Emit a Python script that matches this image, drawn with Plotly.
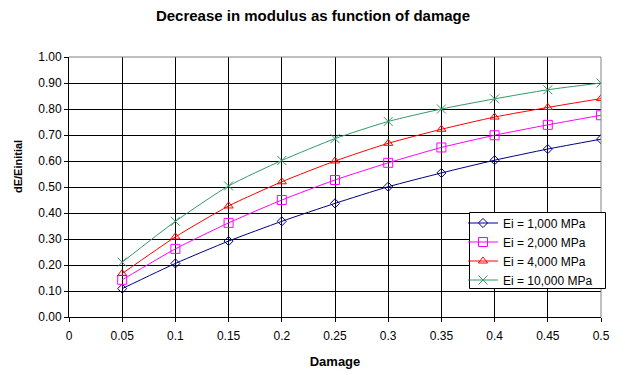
import plotly.graph_objects as go

damage = [0.05, 0.10, 0.15, 0.20, 0.25, 0.30, 0.35, 0.40, 0.45, 0.50]
ei_1000 = [0.109, 0.206, 0.292, 0.368, 0.437, 0.501, 0.554, 0.603, 0.646, 0.684]
ei_2000 = [0.143, 0.262, 0.362, 0.450, 0.527, 0.593, 0.652, 0.699, 0.739, 0.776]
ei_4000 = [0.167, 0.308, 0.427, 0.520, 0.600, 0.668, 0.722, 0.769, 0.806, 0.840]
ei_10000 = [0.211, 0.368, 0.504, 0.602, 0.686, 0.752, 0.800, 0.839, 0.874, 0.900]

series_names = ["Ei = 1,000 MPa", "Ei = 2,000 MPa", "Ei = 4,000 MPa", "Ei = 10,000 MPa"]
series_values = [ei_1000, ei_2000, ei_4000, ei_10000]
colors = ["#000080", "#FF00FF", "#FF0000", "#339966"]
symbols = ["diamond-open", "square-open", "triangle-up-open", "x-thin-open"]
sizes = [7, 9, 8, 9]

x_tickvals = [0, 0.05, 0.1, 0.15, 0.2, 0.25, 0.3, 0.35, 0.4, 0.45, 0.5]
x_ticktext = ["0", "0.05", "0.1", "0.15", "0.2", "0.25", "0.3", "0.35", "0.4", "0.45", "0.5"]
y_tickvals = [0.0, 0.1, 0.2, 0.3, 0.4, 0.5, 0.6, 0.7, 0.8, 0.9, 1.0]

FONT = "Liberation Sans, Arial, sans-serif"

# page body has an 8px margin; figure is sized so the plot area lands at
# x 69..601, y 57..317 in the 625x375 window
OFF = 8
W, H = 625 - OFF, 375 - OFF
PL, PR, PT, PB = 69, 601, 57, 317
PW, PH = PR - PL, PB - PT

fig = go.Figure()
for name, vals, c, s, sz in zip(series_names, series_values, colors, symbols, sizes):
    fig.add_trace(go.Scatter(
        x=damage, y=vals, name=name, mode="lines+markers",
        line=dict(color=c, width=1, shape="spline", smoothing=0.6),
        marker=dict(symbol=s, size=sz, color=c, line=dict(color=c, width=1)),
    ))

fig.update_layout(
    width=W, height=H,
    margin=dict(l=PL - OFF, r=625 - PR, t=PT - OFF, b=375 - PB, autoexpand=False),
    paper_bgcolor="white", plot_bgcolor="white",
    font=dict(family=FONT, size=12, color="black"),
    title=dict(text="<b>Decrease in modulus as function of damage</b>",
               x=(313 - OFF) / W, xref="container", xanchor="center",
               y=1 - 2 / H, yref="container", yanchor="top", pad=dict(t=0, b=0),
               font=dict(size=15, family=FONT)),
    showlegend=True,
    legend=dict(x=(463 - PL) / PW, y=(PB - 208.5) / PH, xanchor="left", yanchor="top",
                bgcolor="rgba(0,0,0,0)", borderwidth=0,
                font=dict(size=12, family=FONT), tracegroupgap=0,
                itemwidth=30),
    xaxis=dict(range=[0, 0.5], tickvals=x_tickvals, ticktext=x_ticktext,
               showgrid=True, gridcolor="black", gridwidth=1,
               showline=True, linecolor="black", linewidth=1,
               ticks="outside", ticklen=4, tickcolor="black", ticklabelstandoff=4,
               zeroline=False, tickfont=dict(size=12), automargin=False,
               title=dict(text="<b>Damage</b>", font=dict(size=13), standoff=14)),
    yaxis=dict(range=[0, 1.0], tickvals=y_tickvals, tickformat=".2f",
               showgrid=True, gridcolor="black", gridwidth=1,
               showline=True, linecolor="black", linewidth=1,
               ticks="outside", ticklen=4, tickcolor="black",
               zeroline=False, tickfont=dict(size=12), automargin=False),
)

fig.add_annotation(text="<b>dE/Einitial</b>", xref="paper", yref="paper",
                   x=-(PL - 18) / PW, y=(PB - 167) / PH, textangle=-90,
                   showarrow=False, xanchor="center", yanchor="middle",
                   font=dict(size=11, family=FONT))

fig.add_shape(type="line", xref="paper", yref="paper", x0=0, x1=1, y0=1, y1=1,
              line=dict(color="#808080", width=1), layer="above")
fig.add_shape(type="line", xref="paper", yref="paper", x0=1, x1=1, y0=0, y1=1,
              line=dict(color="#808080", width=1), layer="above")
# legend box
fig.add_shape(type="rect", xref="paper", yref="paper",
              x0=(469.5 - PL) / PW, x1=(605.5 - PL) / PW,
              y0=(PB - 288.5) / PH, y1=(PB - 212.5) / PH,
              fillcolor="white", line=dict(color="black", width=1), layer="above")

fig.write_html("out.html")
